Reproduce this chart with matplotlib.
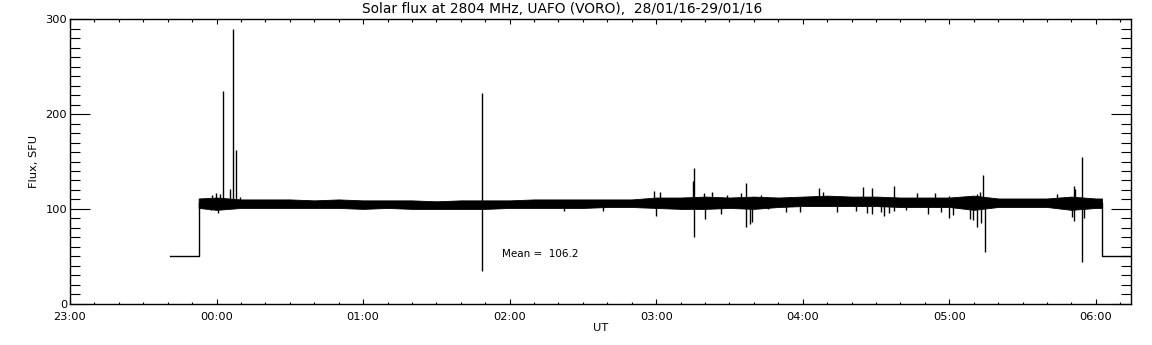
import numpy as np
import matplotlib.pyplot as plt
from matplotlib.ticker import FixedLocator, MultipleLocator, FuncFormatter

# time in hours relative to 00:00 UT 29/01/16 (negative values = 28/01/16)
off_level = 50.0
pre_t = [-0.318, -0.122]
post_t = [6.042, 6.30]
band_mid = 106.0

# noise band of the 1 s record, read in 10 min steps
band_t = [-0.122, 0.0, 0.167, 0.333, 0.5, 0.667, 0.833, 1.0, 1.167, 1.333,
          1.5, 1.667, 1.833, 2.0, 2.167, 2.333, 2.5, 2.667, 2.833, 3.0,
          3.167, 3.333, 3.5, 3.667, 3.833, 4.0, 4.167, 4.333, 4.5, 4.667,
          4.833, 5.0, 5.167, 5.333, 5.5, 5.667, 5.833, 6.0, 6.042]
band_lo = [101, 99, 101, 101, 101, 101, 101, 100, 101, 100,
           100, 100, 100, 101, 101, 101, 101, 102, 102, 101,
           100, 100, 101, 100, 102, 103, 103, 103, 103, 102,
           102, 102, 99, 102, 102, 102, 99, 101, 101]
band_hi = [111, 112, 110, 110, 110, 109, 110, 109, 109, 109,
           108, 109, 109, 109, 110, 110, 110, 110, 110, 112,
           112, 113, 112, 113, 112, 113, 114, 113, 113, 112,
           112, 112, 114, 111, 111, 111, 113, 111, 111]

# individual spikes: time, min, max
spike_t = [-0.038, -0.033, -0.002, 0.012, 0.023, 0.042, 0.093, 0.114, 0.134, 0.160,
           1.810, 2.370, 2.634, 2.986, 2.997, 3.025, 3.248, 3.259, 3.327, 3.334,
           3.384, 3.439, 3.484, 3.582, 3.611, 3.639, 3.657, 3.718, 3.763, 3.889,
           3.980, 4.114, 4.139, 4.237, 4.366, 4.411, 4.437, 4.476, 4.537, 4.555,
           4.587, 4.623, 4.707, 4.780, 4.855, 4.900, 4.946, 4.996, 5.025, 5.139,
           5.162, 5.187, 5.209, 5.219, 5.233, 5.244, 5.737, 5.837, 5.851, 5.857,
           5.905, 5.919]
spike_lo = [98.8, 106, 106, 95.3, 106, 106, 106, 106, 106, 106,
            35, 98, 98, 106, 92, 106, 106, 70.7, 106, 89,
            106, 95, 106, 106, 80.6, 84, 86.5, 106, 99.6, 97,
            96.4, 106, 106, 96.4, 98, 106, 95.3, 94.3, 97, 92.8,
            95.3, 97.8, 98.8, 106, 94.6, 106, 96.4, 90.7, 93.6, 89,
            88.3, 81.2, 106, 84.8, 106, 54.2, 106, 91.8, 87.2, 106,
            44.3, 90]
spike_hi = [106, 114.6, 117, 106, 115.7, 224, 121.5, 290, 162, 113,
            222, 106, 106, 119, 106, 118, 129, 142.8, 117, 106,
            118, 106, 115, 117, 127, 106, 106, 115, 106, 106,
            106, 121.7, 117.5, 106, 106, 123.4, 106, 121.7, 106, 106,
            106, 124, 106, 116.4, 106, 117, 106, 113.6, 106, 106,
            106, 115.4, 117.5, 106, 135.8, 106, 115.4, 106, 124, 120.7,
            155, 106]

mean_flux = 106.2
title = "Solar flux at 2804 MHz, UAFO (VORO),  28/01/16-29/01/16"

fig = plt.figure(figsize=(11.52, 3.45), dpi=100)
ax = fig.add_axes([70 / 1152, 1 - 303.7 / 345, (1131 - 70) / 1152, (303.7 - 19.3) / 345])

ax.plot([pre_t[0], pre_t[1], pre_t[1]], [off_level, off_level, band_mid], color="black", lw=1)
ax.plot([post_t[0], post_t[0], post_t[1]], [band_mid, off_level, off_level], color="black", lw=1)
ax.fill_between(band_t, band_lo, band_hi, color="black", lw=0.6, edgecolor="black")
ax.vlines(spike_t, spike_lo, spike_hi, color="black", lw=1)

ax.text(1.947, 52.4, "Mean =  %.1f" % mean_flux, ha="left", va="center", fontsize=7.5)

ax.set_xlim(-1.0, 6.24)
ax.set_ylim(0, 300)
ax.xaxis.set_major_locator(FixedLocator(range(-1, 7)))
ax.xaxis.set_minor_locator(MultipleLocator(1 / 6))
ax.xaxis.set_major_formatter(FuncFormatter(lambda h, p: "%02d:00" % (int(round(h)) % 24)))
ax.yaxis.set_major_locator(MultipleLocator(100))
ax.yaxis.set_minor_locator(MultipleLocator(10))

ax.tick_params(axis="x", which="both", direction="in", top=True, bottom=True, width=0.8)
ax.tick_params(axis="x", which="major", length=3.6, pad=6, labelsize=8.2)
ax.tick_params(axis="x", which="minor", length=1.8)
ax.tick_params(axis="y", which="both", direction="in", left=True, right=True, width=0.8)
ax.tick_params(axis="y", which="major", length=14.4, pad=2, labelsize=8.2)
ax.tick_params(axis="y", which="minor", length=7.2)
for s in ax.spines.values():
    s.set_linewidth(1.0)

ax.set_xlabel("UT", fontsize=8.2, labelpad=1)
ax.set_ylabel("Flux, SFU", fontsize=8.2, labelpad=5)
fig.text(561.7 / 1152, 1 - 9 / 345, title, ha="center", va="center", fontsize=9.9)

fig.savefig("out.png", dpi=100)
